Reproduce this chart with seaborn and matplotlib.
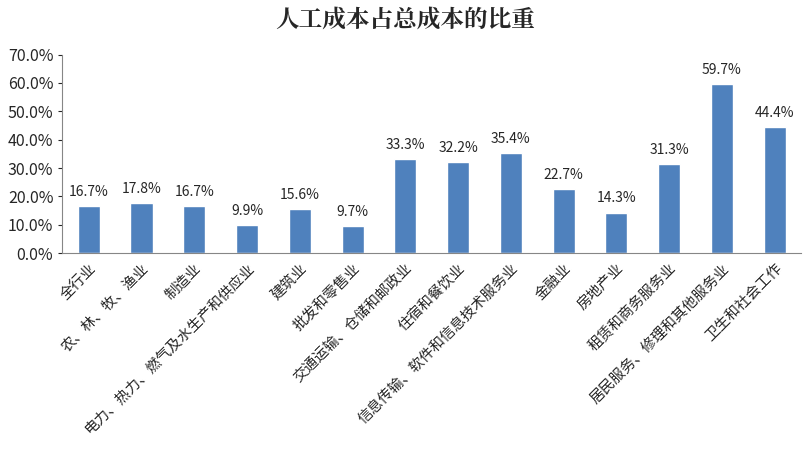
import matplotlib
matplotlib.use("Agg")
import matplotlib.pyplot as plt
import seaborn as sns
import pandas as pd
from matplotlib.ticker import PercentFormatter

categories = ["全行业", "农、林、牧、渔业", "制造业", "电力、热力、燃气及水生产和供应业",
              "建筑业", "批发和零售业", "交通运输、仓储和邮政业", "住宿和餐饮业",
              "信息传输、软件和信息技术服务业", "金融业", "房地产业", "租赁和商务服务业",
              "居民服务、修理和其他服务业", "卫生和社会工作"]
values = [16.7, 17.8, 16.7, 9.9, 15.6, 9.7, 33.3, 32.2, 35.4, 22.7, 14.3, 31.3, 59.7, 44.4]

sns.set_style("white")
plt.rcParams['font.family'] = ['Noto Sans CJK SC', 'DejaVu Sans']

df = pd.DataFrame({"cat": categories, "val": values})
fig = plt.figure(figsize=(8.1, 4.62), dpi=100)
ax = fig.add_axes([0.077, 0.452, 0.912, 0.43])
sns.barplot(data=df, x="cat", y="val", color="#4F81BD", width=0.42, saturation=1, ax=ax)

for i, v in enumerate(values):
    ax.text(i, v + 2.5, f"{v:.1f}%", ha="center", va="bottom", fontsize=10)

ax.set_ylim(0, 70)
ax.set_yticks(range(0, 71, 10))
ax.yaxis.set_major_formatter(PercentFormatter(decimals=1))
ax.tick_params(axis="y", labelsize=11.5, length=3, left=True)
ax.set_xticks(range(len(categories)))
ax.set_xticklabels(categories, rotation=45, ha="right", rotation_mode="anchor", fontsize=10.5)
ax.tick_params(axis="x", length=0, pad=6)
ax.set_xlabel("")
ax.set_ylabel("")
for s in ["top", "right"]:
    ax.spines[s].set_visible(False)
for s in ["left", "bottom"]:
    ax.spines[s].set_color("#868686")
ax.set_xlim(-0.5, len(categories) - 0.5)

fig.suptitle("人工成本占总成本的比重", y=0.985, fontsize=17, fontweight="bold",
             family=["Noto Serif CJK SC", "Noto Sans CJK SC"])
fig.savefig("out.png", dpi=100)
